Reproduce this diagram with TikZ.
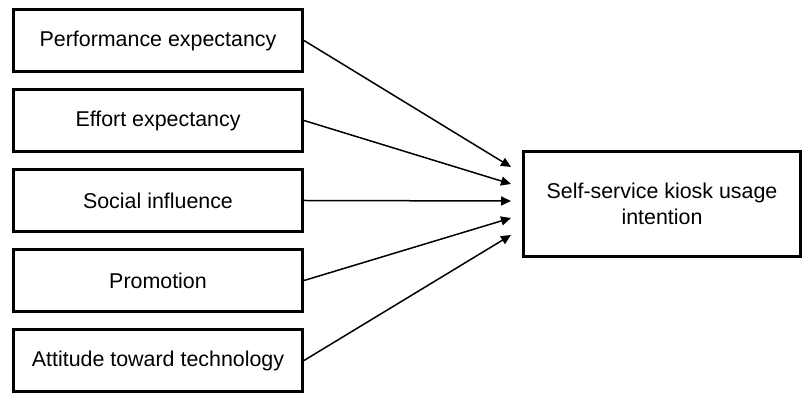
\documentclass[tikz,border=0pt]{standalone}
\usepackage{fontspec}
\setmainfont{Liberation Sans}
\usetikzlibrary{arrows.meta,positioning}

\begin{document}
\begin{tikzpicture}
	[x=0.5pt,y=-0.5pt,>={Triangle[length=5pt,width=4.5pt]},node distance=7.5pt,
		factor node/.style={rectangle,draw,line width=1.5pt,minimum width=144.5pt,minimum height=31pt,font=\fontsize{10.7}{13}\selectfont},
		outcome node/.style={rectangle,draw,line width=1.5pt,minimum width=138.5pt,minimum height=52.5pt,align=center,font=\fontsize{10.7}{13}\selectfont},
		link/.style={->,line width=0.75pt}]

	\useasboundingbox (0,0) rectangle (803,394);

	\node[factor node] at (158,40.5) (PE) {Performance expectancy};
	\node[factor node, below=of PE] (EE) {Effort expectancy};
	\node[factor node, below=of EE] (SI) {Social influence};
	\node[factor node, below=of SI] (PR) {Promotion};
	\node[factor node, below=of PR] (AT) {Attitude toward technology};

	\node[outcome node] at (662,204) (SK) {Self-service kiosk usage\\intention};

	% arrow tips stop short of the outcome box
	\coordinate (t1) at (511,167);
	\coordinate (t2) at (511,184);
	\coordinate (t3) at (511,201);
	\coordinate (t4) at (511,218);
	\coordinate (t5) at (511,235);

	\path[link]
	(PE.east) edge (t1)
	(EE.east) edge (t2)
	(SI.east) edge (t3)
	(PR.east) edge (t4)
	(AT.east) edge (t5)
	;
\end{tikzpicture}
\end{document}
